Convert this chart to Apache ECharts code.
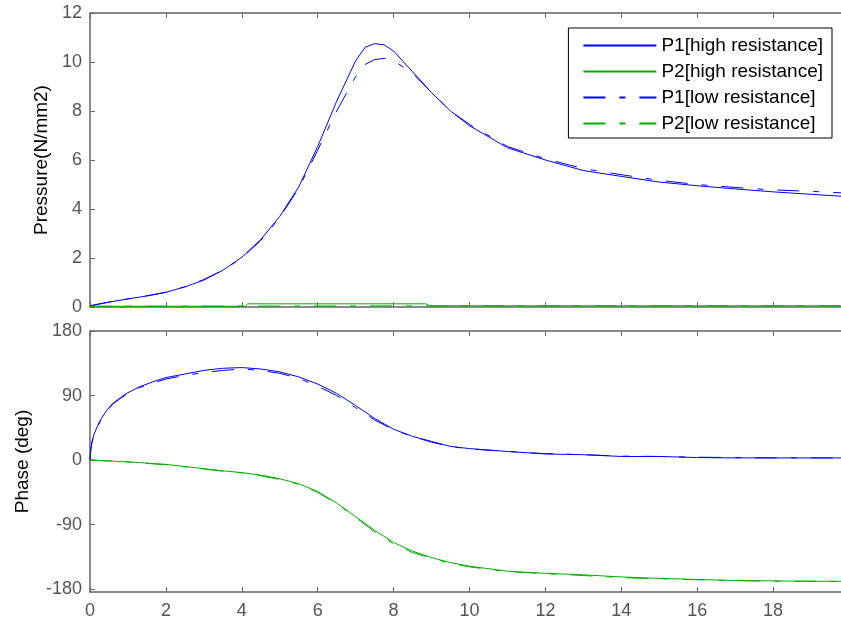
<!DOCTYPE html>
<html><head><meta charset="utf-8">
<script src="https://cdn.jsdelivr.net/npm/echarts@6/dist/echarts.min.js"></script>
<style>html,body{margin:0;padding:0;background:#fff}#c{width:841px;height:620px}</style>
</head><body><div id="c"></div>
<script>
// ---- data ----
const seriesNames = ['P1[high resistance]', 'P2[high resistance]', 'P1[low resistance]', 'P2[low resistance]'];
const xTicks = [0, 2, 4, 6, 8, 10, 12, 14, 16, 18];
const phaseTicks = [-180, -90, 0, 90, 180];

const tPressure = [0,0.5,1,1.5,2,2.5,3,3.5,4,4.5,5,5.5,6,6.5,7,7.25,7.5,7.75,8,8.5,9,9.5,10,11,12,13,14,15,16,17,18,19,19.8];
const p1High = [0.05,0.2,0.33,0.45,0.6,0.82,1.1,1.5,2.03,2.75,3.7,4.9,6.55,8.4,10.05,10.6,10.75,10.7,10.45,9.6,8.75,8.0,7.4,6.5,6.0,5.57,5.33,5.1,4.95,4.82,4.7,4.6,4.52];
const p1Low  = [0.05,0.2,0.33,0.46,0.6,0.83,1.12,1.5,2.0,2.72,3.65,4.85,6.4,8.0,9.4,9.9,10.1,10.15,10.05,9.55,8.75,8.0,7.45,6.55,6.05,5.65,5.4,5.17,5.0,4.88,4.78,4.72,4.66];
const tP2High = [0,4.1,4.15,8.85,8.95,19.8];
const p2High = [0.03,0.03,0.13,0.13,0.05,0.05];
const tP2Low = [0,5,10,15,19.8];
const p2Low = [0.03,0.04,0.05,0.05,0.05];

const tPhase = [0,0.02,0.05,0.1,0.2,0.3,0.45,0.6,0.8,1,1.3,1.7,2,2.5,3,3.5,4,4.5,5,5.5,6,6.5,7,7.5,8,8.5,9,9.5,10,11,12,13,14,15,16,17,18,19,19.8];
const ph1High = [0,15,25,35,48,58,70,79,87,94,102,110,115,120,125,128,129,127,123,116,106,93,76,58,43,33,26,19,16,12,8.5,7.5,5,5,3.5,3,3,3,3];
const ph1Low  = [0,14,24,34,47,57,69,78,86,93,101,108,113,118,122,125,127,125,121,114,103,90,73,56,42,33,25,19,15.5,12,9,7.5,5.5,5,4,3.5,3,3,3];
const ph2High = [0,0,0,0,-0.5,-0.8,-1.2,-1.5,-2,-2.5,-3.5,-5,-6,-9,-12,-15,-17.5,-21,-26,-33,-44,-60,-79,-98,-115,-127,-136,-143,-148,-155,-158,-160,-163,-165,-166.5,-168,-168.5,-169,-169];
const ph2Low  = [0,0,0,0,-0.5,-0.8,-1.2,-1.6,-2.2,-2.8,-3.8,-5.5,-6.5,-9.5,-12.5,-15.5,-18,-22,-27,-34,-45,-61,-80,-100,-117,-129,-137,-144,-149,-155.5,-158.5,-161,-164,-165.5,-167,-168,-169,-169,-169.5];

// ---- chart ----
const zip = (t, v) => t.map((x, i) => [x, v[i]]);
const FONT = 'Liberation Sans, Arial, Helvetica, sans-serif';
const AX = '#666666';
const LBL = '#555555';
const BLUE = '#0000ff', GREEN = '#00b000';
const DASH = [22, 14, 6, 14];

function xAx(grid, pos, showLabel) {
  return {
    type: 'value', gridIndex: grid, position: pos, min: 0, max: 20, interval: 2,
    axisLine: { show: true, onZero: false, lineStyle: { color: AX, width: 1.5 } },
    axisTick: { show: true, inside: true, length: 5, lineStyle: { color: AX, width: 1 } },
    axisLabel: { show: showLabel, margin: 10, color: LBL, fontSize: 18, fontFamily: FONT,
      showMaxLabel: false, formatter: v => (xTicks.indexOf(v) >= 0 ? String(v) : '') },
    splitLine: { show: false }
  };
}

const option = {
  animation: false,
  backgroundColor: '#fff',
  grid: [
    { left: 90, top: 13, width: 759, height: 294, containLabel: false, outerBoundsMode: 'none' },
    { left: 90, top: 331, width: 759, height: 261, containLabel: false, outerBoundsMode: 'none' }
  ],
  xAxis: [
    xAx(0, 'bottom', false),
    xAx(0, 'top', false),
    xAx(1, 'bottom', true),
    xAx(1, 'top', false)
  ],
  yAxis: [
    {
      type: 'value', gridIndex: 0, min: 0, max: 12, interval: 2,
      name: 'Pressure(N/mm2)', nameLocation: 'middle', nameGap: 39, nameRotate: 90, nameMoveOverlap: false,
      nameTextStyle: { color: '#000', fontSize: 19, fontFamily: FONT },
      axisLine: { show: true, lineStyle: { color: AX, width: 1.5 } },
      axisTick: { show: true, inside: true, length: 5, lineStyle: { color: AX } },
      axisLabel: { margin: 8, color: LBL, fontSize: 18, fontFamily: FONT },
      splitLine: { show: false }
    },
    {
      type: 'value', gridIndex: 1, min: -184, max: 180,
      name: 'Phase (deg)', nameLocation: 'middle', nameGap: 58, nameRotate: 90, nameMoveOverlap: false,
      nameTextStyle: { color: '#000', fontSize: 19, fontFamily: FONT },
      axisLine: { show: true, lineStyle: { color: AX, width: 1.5 } },
      axisTick: { show: true, inside: true, length: 5, lineStyle: { color: AX }, customValues: phaseTicks },
      axisLabel: { margin: 8, color: LBL, fontSize: 18, fontFamily: FONT, customValues: phaseTicks },
      splitLine: { show: false }
    }
  ],
  legend: {
    data: seriesNames,
    orient: 'vertical',
    right: 9, top: 28,
    itemWidth: 73, itemHeight: 16, itemGap: 7,
    padding: [8, 9, 5, 14],
    borderColor: '#000', borderWidth: 1, backgroundColor: '#fff',
    itemStyle: { opacity: 0 },
    textStyle: { color: '#000', fontSize: 19, lineHeight: 16, fontFamily: FONT },
    selectedMode: false
  },
  series: [
    { name: seriesNames[0], type: 'line', xAxisIndex: 0, yAxisIndex: 0, symbol: 'none', z: 3,
      lineStyle: { color: BLUE, width: 1 }, itemStyle: { color: BLUE }, data: zip(tPressure, p1High) },
    { name: seriesNames[1], type: 'line', xAxisIndex: 0, yAxisIndex: 0, symbol: 'none', z: 3,
      lineStyle: { color: GREEN, width: 1 }, itemStyle: { color: GREEN }, data: zip(tP2High, p2High) },
    { name: seriesNames[2], type: 'line', xAxisIndex: 0, yAxisIndex: 0, symbol: 'none', z: 2,
      lineStyle: { color: BLUE, width: 1, type: DASH }, itemStyle: { color: BLUE }, data: zip(tPressure, p1Low) },
    { name: seriesNames[3], type: 'line', xAxisIndex: 0, yAxisIndex: 0, symbol: 'none', z: 2,
      lineStyle: { color: GREEN, width: 1, type: DASH }, itemStyle: { color: GREEN }, data: zip(tP2Low, p2Low) },
    { name: seriesNames[0], type: 'line', xAxisIndex: 2, yAxisIndex: 1, symbol: 'none', z: 3,
      lineStyle: { color: BLUE, width: 1 }, itemStyle: { color: BLUE }, data: zip(tPhase, ph1High) },
    { name: seriesNames[1], type: 'line', xAxisIndex: 2, yAxisIndex: 1, symbol: 'none', z: 3,
      lineStyle: { color: GREEN, width: 1 }, itemStyle: { color: GREEN }, data: zip(tPhase, ph2High) },
    { name: seriesNames[2], type: 'line', xAxisIndex: 2, yAxisIndex: 1, symbol: 'none', z: 2,
      lineStyle: { color: BLUE, width: 1, type: DASH }, itemStyle: { color: BLUE }, data: zip(tPhase, ph1Low) },
    { name: seriesNames[3], type: 'line', xAxisIndex: 2, yAxisIndex: 1, symbol: 'none', z: 2,
      lineStyle: { color: GREEN, width: 1, type: DASH }, itemStyle: { color: GREEN }, data: zip(tPhase, ph2Low) }
  ]
};
const chart = echarts.init(document.getElementById('c'), null, { renderer: 'canvas' });
chart.setOption(option);
</script>
</body></html>
